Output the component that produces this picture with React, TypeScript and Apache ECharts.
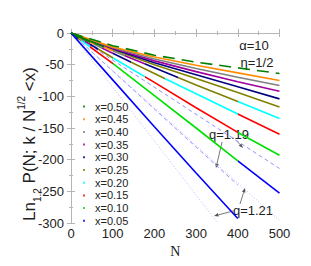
import React, { useEffect, useRef } from "react";
import * as echarts from "echarts";

// Legend (x bins) and their colours
const legendX = ["0.50", "0.45", "0.40", "0.35", "0.30", "0.25", "0.20", "0.15", "0.10", "0.05"];
const legendColors = ["#008000", "#ff8c00", "#808080", "#a000a0", "#000080", "#808000", "#00ffff", "#ff0000", "#00e000", "#0000ff"];

// N sample points
const nPts = [0, 100, 200, 300, 400, 500];
const nPtsL1 = [0, 100, 200, 300, 400];

// Ln_q P values (steepest first)
const line1 = [0, -74, -148, -221, -293]; // blue, k = 0
const line2 = [0, -48, -99, -150, -202, -253]; // k = 1
const line3 = [0, -39, -78, -118, -157, -193]; // k = 2
const line4 = [0, -32, -64, -96, -128, -160]; // k = 3
const line5 = [0, -28, -55, -82, -108, -135]; // k = 4
const line6 = [0, -26, -50, -72, -94, -117];
const line7 = [0, -25, -47, -66, -85, -104];
const line8 = [0, -24, -44, -61, -77, -92];
const line9 = [0, -23, -41, -56, -70, -83];
const line10 = [0, -22, -38, -51, -63, -75];
const line11 = [0, -20, -35, -46, -55, -64];

// colour-changing lines and their k (x = k / N^{1/2})
const kLines = [line2, line3, line4, line5];
const kValues = [1, 2, 3, 4];

// uniform lines and their colour index in the legend
const uniformLines = [line6, line7, line8, line9, line10];
const uniformColorIdx = [5, 4, 3, 2, 1];

// q-fit guide lines
const fitDotted1N = [0, 352];
const fitDotted1 = [0, -300];
const fitDashed1N = [0, 400];
const fitDashed1 = [0, -240];
const fitDashed2N = [0, 500];
const fitDashed2 = [0, -214];
const fitDotted2N = [0, 500];
const fitDotted2 = [0, -296];

const yTicks = [0, -50, -100, -150, -200, -250, -300];

const font = "'Liberation Sans', Arial, sans-serif";

function pairs(ns: number[], vs: number[]) {
  return ns.map((n, i) => [n, vs[i]]);
}

function arrow(x1: number, y1: number, x2: number, y2: number) {
  const ang = Math.atan2(y2 - y1, x2 - x1);
  const L = 4.5;
  const W = 1.8;
  const bx = x2 - L * Math.cos(ang);
  const by = y2 - L * Math.sin(ang);
  const px = -Math.sin(ang) * W;
  const py = Math.cos(ang) * W;
  return [
    { type: "line", shape: { x1, y1, x2: bx, y2: by }, style: { stroke: "#555", lineWidth: 0.8 }, silent: true },
    {
      type: "polygon",
      shape: { points: [[x2, y2], [bx + px, by + py], [bx - px, by - py]] },
      style: { fill: "#555" },
      silent: true,
    },
  ];
}

export default function App() {
  const ref = useRef<HTMLDivElement>(null);
  useEffect(() => {
    if (!ref.current) return;
    const chart = echarts.init(ref.current, undefined, { renderer: "svg" });
    const xNumsDesc = legendX.map(Number);

    const series: any[] = [];
    const visualMaps: any[] = [];

    // faint fit lines
    series.push({ type: "line", data: pairs(fitDotted1N, fitDotted1), showSymbol: false, lineStyle: { color: "#b8b8ff", width: 1, type: [1, 2] }, silent: true });
    series.push({ type: "line", data: pairs(fitDashed1N, fitDashed1), showSymbol: false, lineStyle: { color: "#9090ff", width: 1, type: [4, 3] }, silent: true });
    series.push({ type: "line", data: pairs(fitDashed2N, fitDashed2), showSymbol: false, lineStyle: { color: "#9090ff", width: 1, type: [4, 3] }, silent: true });
    series.push({ type: "line", data: pairs(fitDotted2N, fitDotted2), showSymbol: false, lineStyle: { color: "#b8b8ff", width: 1, type: [1, 2] }, silent: true });

    // uniform lines
    uniformLines.forEach((l, i) => {
      series.push({
        type: "line",
        data: pairs(nPts, l),
        showSymbol: false,
        lineStyle: { color: legendColors[uniformColorIdx[i]], width: 1.6 },
        silent: true,
      });
    });

    // colour-changing lines
    kLines.forEach((l, j) => {
      const k = kValues[j];
      const pieces: any[] = [{ lt: Math.pow(k / xNumsDesc[0], 2), color: legendColors[0] }];
      xNumsDesc.forEach((xu, i) => {
        const xl = i + 1 < xNumsDesc.length ? xNumsDesc[i + 1] : 0;
        const p: any = { gte: Math.pow(k / xu, 2), color: legendColors[i] };
        if (xl > 0) p.lt = Math.pow(k / xl, 2);
        pieces.push(p);
      });
      visualMaps.push({ type: "piecewise", show: false, seriesIndex: series.length, dimension: 0, pieces });
      series.push({ type: "line", data: pairs(nPts, l), showSymbol: false, lineStyle: { width: 1.6 }, silent: true });
    });

    // blue steepest
    series.push({ type: "line", data: pairs(nPtsL1, line1), showSymbol: false, lineStyle: { color: legendColors[9], width: 1.6 }, silent: true });
    // top dashed dark green
    series.push({ type: "line", data: pairs(nPts, line11), showSymbol: false, lineStyle: { color: legendColors[0], width: 1.6, type: [12, 7] }, silent: true });

    // legend dummies
    legendX.forEach((x, i) => {
      series.push({ type: "scatter", name: "x=" + x, data: [], itemStyle: { color: legendColors[i] } });
    });

    const axisLine = { show: true, lineStyle: { color: "#b5b5b5", width: 1 } };
    const tickStyle = { color: "#b5b5b5", width: 1 };

    const option: any = {
      animation: false,
      grid: { left: 71, top: 33, width: 208.5, height: 190, show: false },
      xAxis: [
        {
          type: "value", min: 0, max: 500, interval: 100,
          axisLine, axisTick: { inside: true, length: 4, lineStyle: tickStyle },
          minorTick: { show: true, splitNumber: 2, length: 2, lineStyle: tickStyle },
          splitLine: { show: false },
          axisLabel: { fontFamily: font, fontSize: 13, color: "#222", margin: 4 },
          name: "N", nameLocation: "middle", nameGap: 12,
          nameTextStyle: { fontFamily: "'Liberation Serif', 'Times New Roman', serif", fontSize: 14, color: "#222" },
        },
        {
          type: "value", min: 0, max: 500, interval: 100, position: "top",
          axisLine, axisTick: { inside: true, length: 4, lineStyle: tickStyle },
          minorTick: { show: true, splitNumber: 2, length: 2, lineStyle: tickStyle },
          splitLine: { show: false }, axisLabel: { show: false },
        },
      ],
      yAxis: [
        {
          type: "value", min: -300, max: 0, interval: 50,
          axisLine, axisTick: { inside: true, length: 4, lineStyle: tickStyle },
          minorTick: { show: true, splitNumber: 2, length: 2, lineStyle: tickStyle },
          splitLine: { show: false },
          axisLabel: { fontFamily: font, fontSize: 13, color: "#222", margin: 7, formatter: (v: number) => (yTicks.includes(v) ? String(v) : "") },
        },
        {
          type: "value", min: -300, max: 0, interval: 50, position: "right",
          axisLine, axisTick: { inside: true, length: 4, lineStyle: tickStyle },
          minorTick: { show: true, splitNumber: 2, length: 2, lineStyle: tickStyle },
          splitLine: { show: false }, axisLabel: { show: false },
        },
      ],
      legend: {
        orient: "vertical", left: 78, top: 96, itemWidth: 2, itemHeight: 2, itemGap: 1.7, icon: "rect",
        data: legendX.map((x) => "x=" + x),
        textStyle: { fontFamily: font, fontSize: 11, color: "#222", lineHeight: 11, padding: [0, 0, 0, 5] },
      },
      visualMap: visualMaps,
      series,
      graphic: [
        {
          type: "text", x: 29, y: 144, rotation: Math.PI / 2,
          style: {
            text: "{a|Ln}{s|1.2}{a| P(N; k / N}{p|1/2}{a| <x)}",
            align: "center", verticalAlign: "middle",
            rich: {
              a: { fontFamily: font, fontSize: 17, lineHeight: 26, verticalAlign: "middle", fill: "#222" },
              s: { fontFamily: font, fontSize: 10, lineHeight: 10, verticalAlign: "bottom", fill: "#222" },
              p: { fontFamily: font, fontSize: 10, lineHeight: 10, verticalAlign: "top", fill: "#222" },
            },
          },
        },
        { type: "text", x: 254, y: 45, style: { text: "α=10", font: "13px " + font, fill: "#222", align: "center", verticalAlign: "middle" } },
        { type: "text", x: 257, y: 62, style: { text: "η=1/2", font: "13px " + font, fill: "#222", align: "center", verticalAlign: "middle" } },
        { type: "text", x: 229, y: 134, style: { text: "q=1.19", font: "13px " + font, fill: "#222", align: "center", verticalAlign: "middle" } },
        { type: "text", x: 253, y: 210, style: { text: "q=1.21", font: "13px " + font, fill: "#222", align: "center", verticalAlign: "middle" } },
        ...arrow(222, 142, 216, 168),
        ...arrow(236, 140, 243, 148),
        ...arrow(233, 211, 214, 216),
        ...arrow(240, 204, 245, 188),
      ],
    };
    chart.setOption(option);
    return () => chart.dispose();
  }, []);
  return <div ref={ref} style={{ position: "fixed", left: 0, top: 0, width: 311, height: 266, background: "#fff" }} />;
}
